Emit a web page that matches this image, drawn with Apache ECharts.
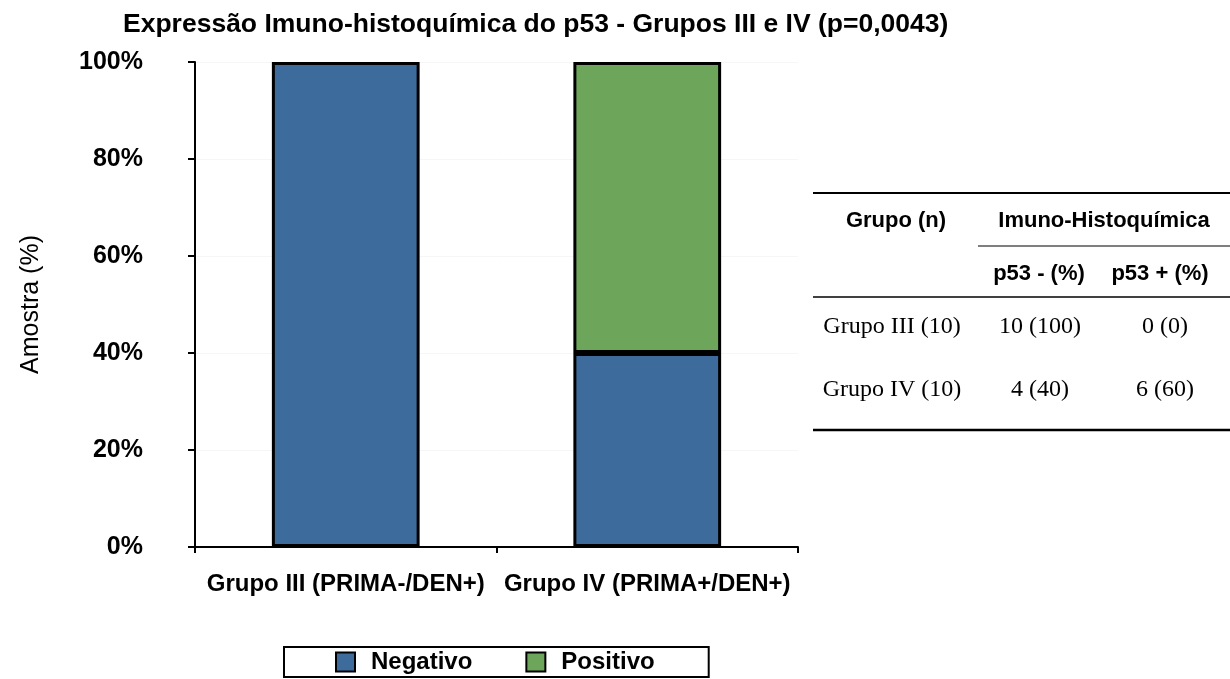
<!DOCTYPE html>
<html>
<head>
<meta charset="utf-8">
<script src="https://cdn.jsdelivr.net/npm/echarts@6/dist/echarts.min.js"></script>
<style>
  html, body { margin: 0; padding: 0; background: #fff; }
  #chart { width: 1230px; height: 679px; }
</style>
</head>
<body>
<div id="chart"></div>
<script>
// Chart data
const categories = ['Grupo III (PRIMA-/DEN+)', 'Grupo IV (PRIMA+/DEN+)'];
const negativo = [100, 40];
const positivo = [0, 60];
const yTicks = [0, 20, 40, 60, 80, 100];

// Side table data
const tableGroups = ['Grupo III (10)', 'Grupo IV (10)'];
const tableNeg = ['10 (100)', '4 (40)'];
const tablePos = ['0 (0)', '6 (60)'];

const blue = '#3D6C9C';
const green = '#6DA55B';
const sans = 'Arial, Liberation Sans, sans-serif';
const serif = 'Liberation Serif, Times New Roman, serif';

const chart = echarts.init(document.getElementById('chart'));

// Table drawn as graphic elements
const tableGraphics = [];
const boldHead = { fontFamily: sans, fontWeight: 'bold', fontSize: 22, fill: '#000', align: 'center', verticalAlign: 'middle' };
const serifCell = { fontFamily: serif, fontSize: 24, fill: '#000', align: 'center', verticalAlign: 'middle' };
function hline(x1, x2, y, w) {
  tableGraphics.push({ type: 'line', shape: { x1: x1, y1: y, x2: x2, y2: y }, style: { stroke: '#000', lineWidth: w } });
}
function txt(x, y, t, st) {
  tableGraphics.push({ type: 'text', x: x, y: y, style: Object.assign({ text: t }, st) });
}
hline(813, 1230, 193, 2);
txt(896, 221, 'Grupo (n)', boldHead);
txt(1104, 221, 'Imuno-Histoquímica', boldHead);
hline(978, 1230, 246, 1.2);
txt(1039, 274, 'p53 - (%)', boldHead);
txt(1160, 274, 'p53 + (%)', boldHead);
hline(813, 1230, 297, 1.5);
const rowY = [327, 390];
const colX = [892, 1040, 1165];
for (let i = 0; i < tableGroups.length; i++) {
  txt(colX[0], rowY[i], tableGroups[i], serifCell);
  txt(colX[1], rowY[i], tableNeg[i], serifCell);
  txt(colX[2], rowY[i], tablePos[i], serifCell);
}
hline(813, 1230, 430, 2.5);

const option = {
  backgroundColor: '#fff',
  animation: false,
  title: {
    text: 'Expressão Imuno-histoquímica do p53 - Grupos III e IV (p=0,0043)',
    left: 118,
    top: 6,
    textStyle: { fontFamily: sans, fontWeight: 'bold', fontSize: 26.5, color: '#000' }
  },
  grid: { left: 195, right: 432, top: 62, bottom: 132 },
  legend: {
    left: 284,
    top: 647,
    orient: 'horizontal',
    padding: [3, 54, 3, 51],
    itemGap: 53,
    itemWidth: 19,
    itemHeight: 19,
    icon: 'rect',
    borderColor: '#000',
    borderWidth: 2,
    borderRadius: 0,
    itemStyle: { borderColor: '#000', borderWidth: 2 },
    textStyle: { fontFamily: sans, fontWeight: 'bold', fontSize: 24, color: '#000', lineHeight: 24, padding: [0, 0, 0, 11] },
    data: ['Negativo', 'Positivo']
  },
  xAxis: {
    type: 'category',
    data: categories,
    boundaryGap: true,
    axisLine: { lineStyle: { color: '#000', width: 2 } },
    axisTick: { show: true, length: 6, inside: false, lineStyle: { color: '#000', width: 2 } },
    axisLabel: { interval: 0, hideOverlap: false, fontFamily: sans, fontWeight: 'bold', fontSize: 24, color: '#000', margin: 25 }
  },
  yAxis: {
    type: 'value',
    min: 0,
    max: 100,
    interval: 20,
    name: 'Amostra (%)',
    nameLocation: 'middle',
    nameGap: 151,
    nameRotate: 90,
    nameTextStyle: { fontFamily: sans, fontSize: 25, color: '#000' },
    axisLine: { show: true, lineStyle: { color: '#000', width: 2 } },
    axisTick: { show: true, length: 7, lineStyle: { color: '#000', width: 2 } },
    splitLine: { show: true, lineStyle: { color: '#f6f6f6', width: 1 } },
    axisLabel: {
      fontFamily: sans, fontWeight: 'bold', fontSize: 25, color: '#000', margin: 52,
      formatter: function (v) { return yTicks.indexOf(v) >= 0 ? v + '%' : ''; }
    }
  },
  series: [
    {
      name: 'Negativo',
      type: 'bar',
      stack: 'total',
      data: negativo,
      barWidth: '49%',
      itemStyle: { color: blue, borderColor: '#000', borderWidth: 3 }
    },
    {
      name: 'Positivo',
      type: 'bar',
      stack: 'total',
      data: positivo.map(function (v) { return v === 0 ? null : v; }),
      barWidth: '49%',
      itemStyle: { color: green, borderColor: '#000', borderWidth: 3 }
    }
  ],
  graphic: tableGraphics
};

chart.setOption(option);
</script>
</body>
</html>
